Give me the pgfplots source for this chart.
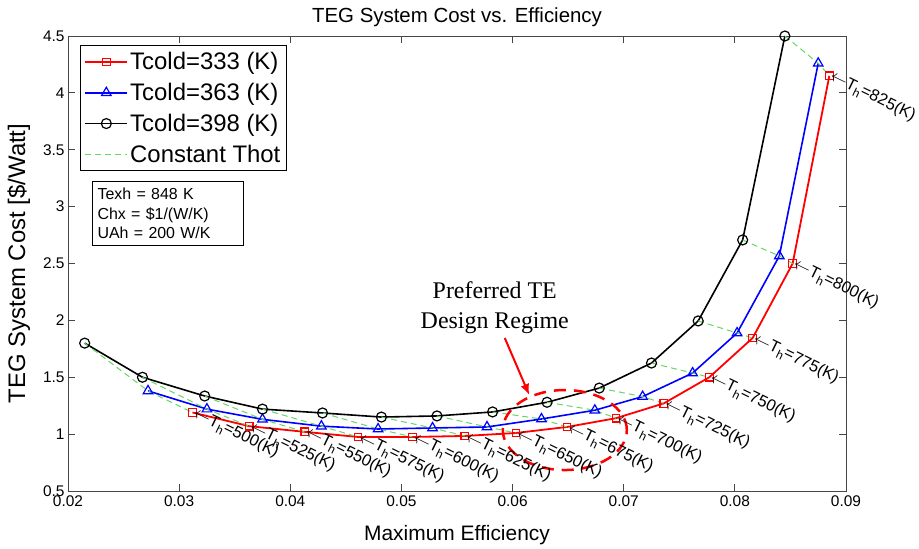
\documentclass[border=0pt]{standalone}
\usepackage{pgfplots}
\pgfplotsset{compat=1.18}
\usepackage{pgfplotstable}
\usepackage{fontspec}
\setmainfont{Liberation Sans}
\newfontfamily\seriffont{Liberation Serif}
\usetikzlibrary{arrows.meta}

% Efficiency and cost for each hot-side temperature Th,
% red = Tcold 333 K, blue = Tcold 363 K, black = Tcold 398 K
\pgfplotstableread{
Th  xr      yr     xb      yb     xk      yk
500 0.0312  1.190  0.0272  1.380  0.0215  1.800
525 0.0363  1.070  0.0325  1.220  0.0267  1.500
550 0.0413  1.020  0.0375  1.130  0.0323  1.335
575 0.0461  0.975  0.0428  1.070  0.0375  1.220
600 0.0510  0.975  0.0479  1.045  0.0429  1.186
625 0.0557  0.984  0.0528  1.054  0.0482  1.150
650 0.0603  1.010  0.0577  1.063  0.0532  1.160
675 0.0649  1.063  0.0626  1.133  0.0582  1.195
700 0.0693  1.140  0.0674  1.210  0.0631  1.280
725 0.0736  1.270  0.0717  1.330  0.0678  1.405
750 0.0777  1.500  0.0762  1.537  0.0725  1.625
775 0.0816  1.845  0.0802  1.889  0.0767  1.995
800 0.0852  2.500  0.0840  2.566  0.0807  2.707
825 0.0885  4.150  0.0875  4.260  0.0845  4.500
}\tegdata

\definecolor{thotgreen}{RGB}{100,215,100}
\definecolor{axgray}{RGB}{70,70,70}

\begin{document}
\begin{tikzpicture}
\begin{axis}[
  scale only axis,
  width=778bp, height=455bp,
  xmin=0.02, xmax=0.09, ymin=0.5, ymax=4.5,
  scaled x ticks=false,
  xtick={0.02,0.03,0.04,0.05,0.06,0.07,0.08,0.09},
  xticklabels={0.02,0.03,0.04,0.05,0.06,0.07,0.08,0.09},
  ytick={0.5,1,1.5,2,2.5,3,3.5,4,4.5},
  yticklabels={0.5,1,1.5,2,2.5,3,3.5,4,4.5},
  tick align=inside,
  major tick length=7bp,
  axis line style={axgray, line width=0.9bp},
  every tick/.style={axgray, line width=0.9bp},
  ticklabel style={font=\fontsize{15.5}{17}\selectfont},
  xticklabel style={yshift=-1bp},
  title={TEG System Cost vs. Efficiency},
  title style={font=\fontsize{20.5}{23}\selectfont, yshift=0bp},
  xlabel={Maximum Efficiency},
  ylabel={TEG System Cost [\$/Watt]},
  xlabel style={font=\fontsize{21}{23}\selectfont},
  ylabel style={font=\fontsize{24}{26}\selectfont},
  xlabel shift=12bp,
  ylabel shift=6bp,
  clip=false,
  legend style={
    at={(0.0154,0.980)}, anchor=north west,
    draw=black, line width=0.9bp,
    font=\fontsize{24}{27}\selectfont,
    row sep=8bp, inner xsep=4bp, inner ysep=5bp,
    legend cell align=left,
  },
  legend image code/.code={%
    \draw[mark repeat=2,mark phase=2,#1]
      plot coordinates {(0bp,0bp) (21bp,0bp) (42bp,0bp)};},
  thot/.style={thotgreen, dashed, dash pattern=on 6bp off 4bp, line width=1bp},
]

% Tcold = 333 K, with a note for each hot-side temperature
\addplot[red, line width=1.8bp, mark=square, mark size=3.8bp,
  mark options={solid, line width=1.2bp},
  point meta=explicit symbolic,
  nodes near coords={$\leftarrow$T\raisebox{-0.5ex}{\fontsize{12}{12}\selectfont h}=\pgfplotspointmeta(K)},
  every node near coord/.style={anchor=west, rotate=-26, text=black,
    inner sep=1bp, font=\fontsize{16.5}{18}\selectfont},
] table[x=xr, y=yr, meta=Th] {\tegdata};
\addlegendentry{Tcold=333 (K)}

% Tcold = 363 K
\addplot[blue, line width=1.6bp, mark=triangle, mark size=5.5bp,
  mark options={solid, line width=1.2bp}]
  table[x=xb, y=yb] {\tegdata};
\addlegendentry{Tcold=363 (K)}

% Tcold = 398 K
\addplot[black, line width=1.6bp, mark=o, mark size=5bp,
  mark options={solid, line width=1.2bp}]
  table[x=xk, y=yk] {\tegdata};
\addlegendentry{Tcold=398 (K)}

% lines of constant hot-side temperature across the three curves
\pgfplotsinvokeforeach{0,...,13}{
  \pgfplotstablegetelem{#1}{xk}\of\tegdata \edef\xk{\pgfplotsretval}
  \pgfplotstablegetelem{#1}{yk}\of\tegdata \edef\yk{\pgfplotsretval}
  \pgfplotstablegetelem{#1}{xb}\of\tegdata \edef\xb{\pgfplotsretval}
  \pgfplotstablegetelem{#1}{yb}\of\tegdata \edef\yb{\pgfplotsretval}
  \pgfplotstablegetelem{#1}{xr}\of\tegdata \edef\xr{\pgfplotsretval}
  \pgfplotstablegetelem{#1}{yr}\of\tegdata \edef\yr{\pgfplotsretval}
  \edef\thotline{\noexpand\addplot[thot, forget plot]
    coordinates {(\xk,\yk) (\xb,\yb) (\xr,\yr)};}
  \thotline
}
\addlegendimage{thot}
\addlegendentry{Constant Thot}

% operating parameters
\node[draw=black, line width=0.9bp, fill=white, anchor=north west,
  align=left, font=\fontsize{16}{20}\selectfont,
  inner xsep=5bp, inner ysep=6bp, text width=141bp]
  at (rel axis cs:0.031,0.681)
  {Texh = 848 K\\Chx = \$1/(W/K)\\UAh = 200 W/K};

% preferred design region
\draw[red, line width=2.5bp, dash pattern=on 12bp off 8bp]
  (axis cs:0.0647,1.036) ellipse [x radius=62bp, y radius=40bp];
\draw[red, line width=2bp, -{Latex[length=11bp, width=9bp]}]
  (axis cs:0.0593,1.845) -- (axis cs:0.0615,1.344);
\node[align=center, font=\seriffont\fontsize{24}{30}\selectfont]
  at (axis cs:0.0584,2.11) {Preferred TE\\Design Regime};

\end{axis}
\pgfresetboundingbox
\path[use as bounding box]
  ([xshift=-68bp, yshift=-57bp]current axis.south west)
  rectangle ([xshift=73bp, yshift=36bp]current axis.north east);
\end{tikzpicture}
\end{document}
